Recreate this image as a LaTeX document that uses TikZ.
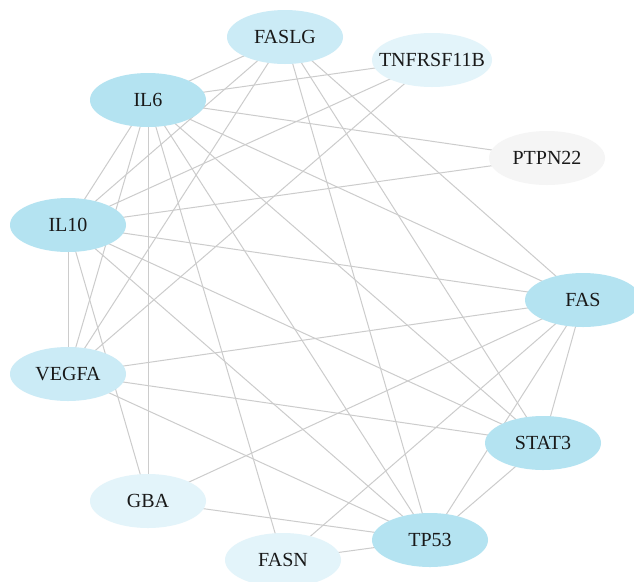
\documentclass[tikz,border=0pt]{standalone}
\usepackage{fontspec}
\setmainfont{Liberation Serif}
\usetikzlibrary{shapes.geometric}
\pgfdeclarelayer{background}
\pgfsetlayers{background,main}
\definecolor{cdark}{HTML}{B4E3F1}
\definecolor{cmid}{HTML}{CBEBF6}
\definecolor{clight}{HTML}{E3F4FA}
\definecolor{cgray}{HTML}{F5F5F5}
\definecolor{edgec}{HTML}{CCCCCC}
\tikzset{
  gene/.style={ellipse, minimum width=116pt, minimum height=54pt, inner sep=0pt,
    font=\fontsize{20}{22}\selectfont, text=black!90},
  link/.style={draw=edgec, line width=1pt}
}
\begin{document}
\begin{tikzpicture}[x=1pt,y=-1pt]
\clip (0,0) rectangle (634,581);
\node[gene, fill=cmid]   (FASLG) at (285,37)  {\makebox[0pt]{FASLG}};
\node[gene, fill=clight, minimum width=120pt] (TNF) at (432,60) {\makebox[0pt]{TNFRSF11B}};
\node[gene, fill=cdark]  (IL6)   at (148,100) {\makebox[0pt]{IL6}};
\node[gene, fill=cgray]  (PTPN)  at (547,158) {\makebox[0pt]{PTPN22}};
\node[gene, fill=cdark]  (IL10)  at (68,225)  {\makebox[0pt]{IL10}};
\node[gene, fill=cdark]  (FAS)   at (583,300) {\makebox[0pt]{FAS}};
\node[gene, fill=cmid]   (VEGFA) at (68,374)  {\makebox[0pt]{VEGFA}};
\node[gene, fill=cdark]  (STAT3) at (543,443) {\makebox[0pt]{STAT3}};
\node[gene, fill=clight] (GBA)   at (148,501) {\makebox[0pt]{GBA}};
\node[gene, fill=cdark]  (TP53)  at (430,540) {\makebox[0pt]{TP53}};
\node[gene, fill=clight] (FASN)  at (283,560) {\makebox[0pt]{FASN}};
\begin{pgfonlayer}{background}
\fill[white] (0,0) rectangle (634,581);
\foreach \a/\b in {FASLG/IL6, FASLG/IL10, FASLG/VEGFA, FASLG/TP53, FASLG/STAT3, FASLG/FAS,
  TNF/IL6, TNF/IL10, TNF/VEGFA,
  IL6/PTPN, IL6/IL10, IL6/VEGFA, IL6/GBA, IL6/FASN, IL6/TP53, IL6/STAT3, IL6/FAS,
  PTPN/IL10,
  IL10/VEGFA, IL10/GBA, IL10/TP53, IL10/STAT3, IL10/FAS,
  FAS/VEGFA, FAS/GBA, FAS/FASN, FAS/TP53, FAS/STAT3,
  VEGFA/STAT3, VEGFA/TP53,
  STAT3/TP53, TP53/GBA, TP53/FASN}
  \draw[link] (\a.center) -- (\b.center);
\end{pgfonlayer}
\end{tikzpicture}
\end{document}
